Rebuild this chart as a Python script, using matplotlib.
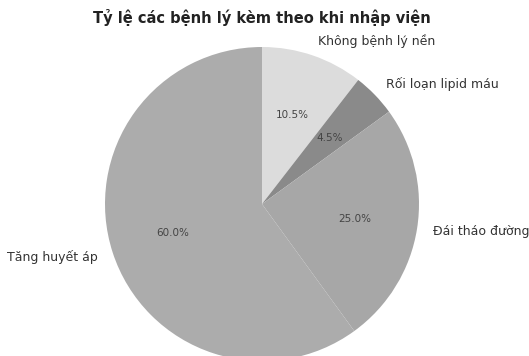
import matplotlib.pyplot as plt

labels = ["Không bệnh lý nền", "Rối loạn lipid máu", "Đái tháo đường", "Tăng huyết áp"]
sizes = [10.5, 4.5, 25.0, 60.0]
colors = ["#dcdcdc", "#8a8a8a", "#a7a7a7", "#acacac"]

fig = plt.figure(figsize=(5.29, 3.56), dpi=100)
ax = fig.add_axes([0, 0, 1, 1])

wedges, texts, autotexts = ax.pie(
    sizes,
    labels=labels,
    colors=colors,
    autopct="%1.1f%%",
    startangle=90,
    counterclock=False,
    textprops={"fontsize": 9, "color": "#333333"},
)
for t in autotexts:
    t.set_fontsize(7.5)
    t.set_color("#444444")

# radius 1 -> 157 px, centre at (262, 204) from top-left
ax.set_xlim(-262 / 157, (529 - 262) / 157)
ax.set_ylim(-(356 - 204) / 157, 204 / 157)
ax.set_aspect("auto")
ax.axis("off")

fig.text(262 / 529, 1 - 18 / 356, "Tỷ lệ các bệnh lý kèm theo khi nhập viện",
         ha="center", va="center", fontsize=10.5, fontweight="bold", color="#222222")

fig.savefig("out.png", dpi=100)
